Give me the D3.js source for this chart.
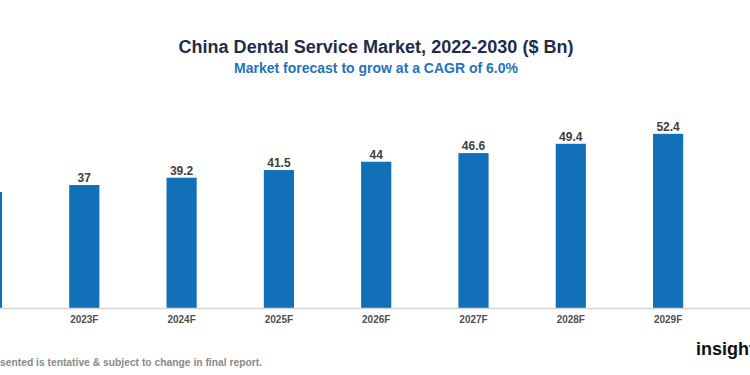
<!DOCTYPE html>
<html>
<head>
<meta charset="utf-8">
<script src="https://cdn.jsdelivr.net/npm/d3@7"></script>
<style>
  html, body { margin: 0; padding: 0; background: #fff; }
  svg { display: block; }
  text { font-family: "Liberation Sans", Arial, sans-serif; }
</style>
</head>
<body>
<svg id="chart" width="750" height="375"></svg>
<script>
// Data (2022 and 2030 are cut off at the edges)
const years = ["2022", "2023F", "2024F", "2025F", "2026F", "2027F", "2028F", "2029F", "2030F"];
const values = [34.9, 37, 39.2, 41.5, 44, 46.6, 49.4, 52.4, 55.5];
const titleText = "China Dental Service Market, 2022-2030 ($ Bn)";
const subtitleText = "Market forecast to grow at a CAGR of 6.0%";
const noteText = "sented is tentative & subject to change in final report.";
const logoText = "insights";

const W = 750, H = 375;
const svg = d3.select("#chart");

const baseY = 308;
const step = 97.3;
const firstCenter = -13;
const x = d3.scaleBand()
  .domain(years)
  .range([firstCenter - step / 2, firstCenter - step / 2 + step * years.length])
  .paddingInner(0.69)
  .paddingOuter(0.345);

const y = d3.scaleLinear().domain([0, 60]).range([baseY, baseY - 60 * 3.324]);

// Title
svg.append("text")
  .attr("x", 376).attr("y", 53)
  .attr("text-anchor", "middle")
  .attr("font-size", 18).attr("font-weight", "bold")
  .attr("fill", "#1f2b4d")
  .attr("textLength", 395).attr("lengthAdjust", "spacingAndGlyphs")
  .text(titleText);

svg.append("text")
  .attr("x", 376).attr("y", 73)
  .attr("text-anchor", "middle")
  .attr("font-size", 14).attr("font-weight", "bold")
  .attr("fill", "#1f74bb")
  .attr("textLength", 284).attr("lengthAdjust", "spacingAndGlyphs")
  .text(subtitleText);

// Bars
const data = years.map((d, i) => ({ year: d, value: values[i] }));
svg.append("g").selectAll("rect").data(data).join("rect")
  .attr("x", d => x(d.year))
  .attr("width", x.bandwidth())
  .attr("y", d => y(d.value))
  .attr("height", d => baseY - y(d.value))
  .attr("fill", "#1170b8");

// Value labels (only for bars whose centre is inside the picture)
svg.append("g").selectAll("text")
  .data(data.filter(d => x(d.year) + x.bandwidth() / 2 > 0 && x(d.year) + x.bandwidth() / 2 < W))
  .join("text")
  .attr("x", d => x(d.year) + x.bandwidth() / 2)
  .attr("y", d => y(d.value) - 3)
  .attr("text-anchor", "middle")
  .attr("font-size", 12).attr("font-weight", "bold")
  .attr("fill", "#3f3f3f")
  .text(d => d.value);

// X axis
const xAxis = d3.axisBottom(x).tickSize(0).tickPadding(8);
const gx = svg.append("g").attr("transform", `translate(0,${baseY})`).call(xAxis);
gx.select(".domain").remove();
gx.selectAll(".tick").filter(d => x(d) + x.bandwidth() / 2 < 0 || x(d) + x.bandwidth() / 2 > W).remove();
gx.append("line").attr("x1", 0).attr("x2", W).attr("y1", 0.5).attr("y2", 0.5)
  .attr("stroke", "#d4d4d4").attr("stroke-width", 1.5);
gx.selectAll(".tick text")
  .attr("font-size", 10).attr("font-weight", "bold")
  .attr("fill", "#505050")
  .attr("font-family", "'Liberation Sans', Arial, sans-serif");

// Footer note
svg.append("text")
  .attr("x", 0).attr("y", 366)
  .attr("font-size", 10.3).attr("font-weight", "bold")
  .attr("fill", "#8a8a8a")
  .text(noteText);

// Logo
svg.append("text")
  .attr("x", 696).attr("y", 355)
  .attr("font-size", 18).attr("font-weight", "bold")
  .attr("fill", "#111")
  .text(logoText);
</script>
</body>
</html>
